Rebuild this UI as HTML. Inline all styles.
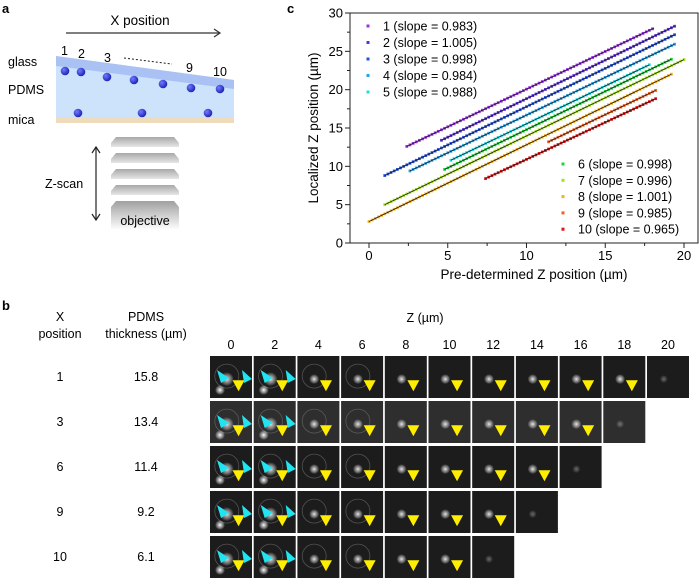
<!DOCTYPE html>
<html><head><meta charset="utf-8"><style>
body{margin:0;background:#fff;width:699px;height:580px;overflow:hidden;font-family:"Liberation Sans",Arial,sans-serif}
svg text{font-family:"Liberation Sans",Arial,sans-serif}
</style></head><body>
<svg id="fig" width="699" height="580" viewBox="0 0 699 580">
<defs>
<linearGradient id="plate" x1="0" y1="0" x2="0" y2="1"><stop offset="0" stop-color="#a8a8a8"/><stop offset="1" stop-color="#e6e6e6"/></linearGradient>
<linearGradient id="obj" x1="0" y1="0" x2="0" y2="1"><stop offset="0" stop-color="#a0a0a0"/><stop offset="1" stop-color="#ffffff"/></linearGradient>
<radialGradient id="bead" cx="0.35" cy="0.35" r="0.7"><stop offset="0" stop-color="#6f7bff"/><stop offset="1" stop-color="#1a1fb0"/></radialGradient>
<radialGradient id="spot"><stop offset="0" stop-color="#fff"/><stop offset="0.4" stop-color="#ddd" stop-opacity="0.7"/><stop offset="1" stop-color="#fff" stop-opacity="0"/></radialGradient>
</defs>
<g>
<text x="2" y="13" font-size="13" font-weight="bold">a</text>
<text x="140" y="25" font-size="13.5" text-anchor="middle">X position</text>
<line x1="66" y1="33" x2="220" y2="33" stroke="#333" stroke-width="1.2"/>
<polyline points="214,29 220,33 214,37" fill="none" stroke="#333" stroke-width="1.2"/>
<polygon points="56,56 234,80 234,117 56,117" fill="#cde3fb"/>
<polygon points="56,56 234,80 234,89 56,66" fill="#a9c2f3"/>
<rect x="56" y="117" width="178" height="6" fill="#efdcbc"/>
<text x="8" y="66" font-size="12.5">glass</text>
<text x="8" y="94" font-size="12.5">PDMS</text>
<text x="8" y="124" font-size="12.5">mica</text>
<g font-size="12.5"><text x="61" y="55">1</text><text x="78" y="58">2</text><text x="104" y="62">3</text><text x="186" y="72">9</text><text x="213" y="76">10</text></g>
<line x1="124" y1="58" x2="172" y2="64" stroke="#222" stroke-dasharray="2,2"/>
<g fill="url(#bead)">
<circle cx="65" cy="71" r="4.3"/><circle cx="81" cy="72" r="4.3"/><circle cx="107" cy="77" r="4.3"/><circle cx="134" cy="80" r="4.3"/><circle cx="163" cy="84" r="4.3"/><circle cx="191" cy="88" r="4.3"/><circle cx="220" cy="89" r="4.3"/>
<circle cx="78" cy="113" r="4.3"/><circle cx="142" cy="113" r="4.3"/><circle cx="208" cy="113" r="4.3"/></g>
<g>
<polygon points="116,137 174,137 179,143 179,147 111,147 111,143" fill="url(#plate)"/>
<polygon points="116,153 174,153 179,159 179,163 111,163 111,159" fill="url(#plate)"/>
<polygon points="116,169 174,169 179,175 179,179 111,179 111,175" fill="url(#plate)"/>
<polygon points="116,185 174,185 179,191 179,195 111,195 111,191" fill="url(#plate)"/>
<polygon points="116,201 174,201 179,207 179,230 111,230 111,207" fill="url(#obj)"/>
</g>
<text x="145" y="225" font-size="12.5" text-anchor="middle">objective</text>
<line x1="96" y1="148" x2="96" y2="219" stroke="#222" stroke-width="1.2"/>
<polyline points="92,153 96,147 100,153" fill="none" stroke="#222" stroke-width="1.2"/>
<polyline points="92,214 96,220 100,214" fill="none" stroke="#222" stroke-width="1.2"/>
<text x="45" y="188" font-size="12.5">Z-scan</text>
</g>
<text x="287" y="13" font-size="13" font-weight="bold">c</text>
<g id="chart"></g>
<text x="2" y="310" font-size="13" font-weight="bold">b</text>
<text x="60" y="321" font-size="12.5" text-anchor="middle">X</text>
<text x="60" y="338" font-size="12.5" text-anchor="middle">position</text>
<text x="146" y="321" font-size="12.5" text-anchor="middle">PDMS</text>
<text x="146" y="338" font-size="12.5" text-anchor="middle">thickness (µm)</text>
<text x="425" y="322" font-size="12.5" text-anchor="middle">Z (µm)</text>
<g id="grid"></g>
</svg>
<script>
const NS='http://www.w3.org/2000/svg';
function mk(p,t,a){const e=document.createElementNS(NS,t);for(const k in a)e.setAttribute(k,a[k]);p.appendChild(e);return e;}
const seriesNames=['1','2','3','4','5','6','7','8','9','10'];
const slopes=[0.983,1.005,0.998,0.984,0.988,0.998,0.996,1.001,0.985,0.965];
const xStart=[2.4,4.6,1.0,2.6,5.2,4.8,1.0,0.0,11.4,7.4];
const xEnd=[18.1,19.4,19.4,19.4,17.8,19.2,20.0,19.2,18.2,18.2];
const yStart=[12.6,13.4,8.8,9.4,10.8,9.6,5.0,2.8,13.2,8.4];
const colors=['#9b30e6','#5a2ee0','#2451e2','#27a2ea','#22dde6','#22d43c','#a6e020','#f5b020','#f2601e','#e01212'];
const xTicks=[0,5,10,15,20];
const yTicks=[0,5,10,15,20,25,30];
const L=350,T=13,R=698,B=243;
const xs=v=>369+v*15.75;
const ys=v=>243-v*(230/30);
const c=document.getElementById('chart');
mk(c,'rect',{x:L,y:T,width:R-L,height:B-T,fill:'none',stroke:'#222','stroke-width':1});
for(const t of xTicks){mk(c,'line',{x1:xs(t),y1:B,x2:xs(t),y2:B+5,stroke:'#222'});
 const tx=mk(c,'text',{x:xs(t),y:B+17,'font-size':13,'text-anchor':'middle'});tx.textContent=t;
 
 if(t<20)mk(c,'line',{x1:xs(t+2.5),y1:B,x2:xs(t+2.5),y2:B+3,stroke:'#222'});}
for(const t of yTicks){mk(c,'line',{x1:L-5,y1:ys(t),x2:L,y2:ys(t),stroke:'#222'});
 const tx=mk(c,'text',{x:L-7,y:ys(t)+4.5,'font-size':13,'text-anchor':'end'});tx.textContent=t;
 
 if(t<30)mk(c,'line',{x1:L-3,y1:ys(t+2.5),x2:L,y2:ys(t+2.5),stroke:'#222'});}
const xt=mk(c,'text',{x:(L+R)/2+10,y:279,'font-size':13.5,'text-anchor':'middle'});xt.textContent='Pre-determined Z position (µm)';

const yt=mk(c,'text',{x:0,y:0,'font-size':13.5,'text-anchor':'middle',transform:`translate(318,${(T+B)/2}) rotate(-90)`});yt.textContent='Localized Z position (µm)';

seriesNames.forEach((n,i)=>{
 const g=mk(c,'g',{});
 
 const y2=yStart[i]+slopes[i]*(xEnd[i]-xStart[i]);
 for(let x=xStart[i];x<=xEnd[i]+1e-6;x+=0.2){
   const y=yStart[i]+slopes[i]*(x-xStart[i]);
   mk(g,'rect',{x:xs(x)-1.4,y:ys(y)-1.4,width:2.8,height:2.8,fill:colors[i]});
 }
 const fl=mk(g,'line',{x1:xs(xStart[i]),y1:ys(yStart[i]),x2:xs(xEnd[i]),y2:ys(y2),stroke:'#111','stroke-width':0.7});
 
 const lx=i<5?368:563, ly=i<5?26+i*16.5:164+(i-5)*16.3;
 const le=mk(c,'g',{});
 
 mk(le,'rect',{x:lx-1.5,y:ly-1.5,width:3,height:3,fill:colors[i]});
 const t=mk(le,'text',{x:lx+15,y:ly+4.5,'font-size':12.5});t.textContent=n+' (slope = '+slopes[i].toFixed(3)+')';
});
const zLabels=[0,2,4,6,8,10,12,14,16,18,20];
const rowX=['1','3','6','9','10'];
const rowThick=['15.8','13.4','11.4','9.2','6.1'];
const rowCols=[11,10,9,8,7];
const grid=document.getElementById('grid');
const gx0=210,gy0=356,step=43.7,rstep=45,tw=42,th=42;
zLabels.forEach((z,j)=>{const t=mk(grid,'text',{x:gx0+j*step+tw/2,y:349,'font-size':12.5,'text-anchor':'middle'});t.textContent=z;
 });
rowX.forEach((rx,r)=>{
 const y0=gy0+r*rstep;
 const a=mk(grid,'text',{x:60,y:y0+25,'font-size':12.5,'text-anchor':'middle'});a.textContent=rx;
 
 const b=mk(grid,'text',{x:146,y:y0+25,'font-size':12.5,'text-anchor':'middle'});b.textContent=rowThick[r];
 
 for(let j=0;j<rowCols[r];j++){
  const x0=gx0+j*step;
  const tile=mk(grid,'g',{});
  
  mk(tile,'rect',{x:x0,y:y0,width:tw,height:th,fill:r==1?'#2e2e2e':'#1c1c1c'});
  const last=j==rowCols[r]-1;
  const sx=x0+tw*0.4, sy=y0+th*0.55;
  mk(tile,'circle',{cx:sx,cy:sy,r:last?4:(j<2?7:5),fill:'url(#spot)',opacity:last?0.35:0.9});
  if(j<4)mk(tile,'circle',{cx:sx,cy:sy-3,r:12,fill:'none',stroke:'#777','stroke-width':0.8,opacity:0.6});
  if(j<2)mk(tile,'circle',{cx:x0+10,cy:y0+th-8,r:5,fill:'url(#spot)'});
  if(!last){const ax=x0+tw*0.68, ay=y0+th*0.72;
   mk(tile,'polygon',{points:`${ax-6},${ay-6} ${ax+6},${ay-6} ${ax},${ay+5}`,fill:'#ffee00'});}
  if(j<2){const cx=x0+12, cy=y0+th*0.5;
   mk(tile,'polygon',{points:`${cx-5},${cy-7} ${cx+7},${cy+1} ${cx-1},${cy+6}`,fill:'#22e4f0'});
   mk(tile,'polygon',{points:`${cx+20},${cy-7} ${cx+30},${cy+2} ${cx+22},${cy+6}`,fill:'#22e4f0'});}
 }
});
</script>
</body></html>
